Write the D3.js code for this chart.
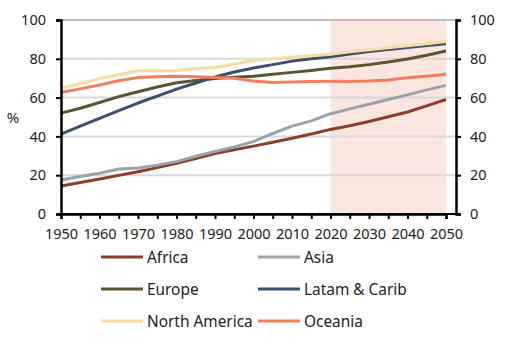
<!DOCTYPE html>
<html>
<head>
<meta charset="utf-8">
<script src="https://cdn.jsdelivr.net/npm/d3@7"></script>
<style>
  body { margin: 0; background: #fff; }
  svg text { font-family: "Noto Sans", sans-serif; fill: #222; }
</style>
</head>
<body>
<svg id="chart" width="505" height="347"></svg>
<script>
'use strict';

// Five-yearly urbanisation share (%), 1950-2050
var years = d3.range(1950, 2051, 5);
var africa   = [14.4, 16.2, 18.0, 19.9, 21.8, 23.9, 26.1, 28.6, 31.2, 33.1, 35.0, 37.0, 39.0, 41.2, 43.6, 45.5, 47.7, 50.1, 52.6, 55.7, 59.0];
var asia     = [17.5, 19.3, 21.0, 23.2, 23.7, 25.2, 27.0, 29.8, 32.2, 34.6, 37.3, 41.5, 45.3, 48.0, 51.7, 54.2, 56.6, 59.0, 61.4, 64.0, 66.3];
var europe   = [52.0, 54.5, 57.5, 60.5, 63.0, 65.5, 67.7, 68.8, 69.8, 70.5, 71.0, 72.0, 73.0, 74.0, 75.1, 75.9, 77.0, 78.4, 79.9, 81.8, 84.0];
var latam    = [41.2, 45.3, 49.3, 53.3, 57.2, 60.8, 64.4, 67.5, 70.6, 73.2, 75.3, 77.0, 78.8, 80.0, 81.0, 82.5, 83.7, 84.8, 85.8, 86.8, 87.8];
var northAm  = [64.7, 67.3, 69.8, 71.8, 73.9, 73.9, 73.9, 75.0, 75.5, 77.3, 79.1, 80.0, 80.8, 81.6, 82.4, 83.6, 84.7, 85.7, 86.7, 87.7, 88.9];
var oceania  = [62.6, 64.5, 66.5, 68.7, 70.3, 70.8, 71.0, 70.8, 70.3, 70.0, 68.6, 67.8, 68.1, 68.3, 68.4, 68.3, 68.5, 69.1, 70.2, 71.0, 72.0];

var seriesNames = ['Africa', 'Asia', 'Europe', 'Latam & Carib', 'North America', 'Oceania'];
var seriesValues = [africa, asia, europe, latam, northAm, oceania];
var seriesColours = ['#8b3f2b', '#9ba3aa', '#5b5631', '#3b4f6f', '#f6dca0', '#ef7f5e'];

var xTicks = d3.range(1950, 2051, 10);
var yTicks = [0, 20, 40, 60, 80, 100];
var forecastStart = 2020, forecastEnd = 2050;

var svg = d3.select('#chart');
var plotLeft = 61, plotRight = 456, plotTop = 20, plotBottom = 214;

var x = d3.scaleLinear().domain([1950, 2050]).range([plotLeft, 446]);
var y = d3.scaleLinear().domain([0, 100]).range([plotBottom, plotTop]);

// Forecast shading
svg.append('rect')
    .attr('x', x(forecastStart))
    .attr('y', y(100))
    .attr('width', x(forecastEnd) - x(forecastStart))
    .attr('height', y(0) - y(100))
    .attr('fill', '#fae5df');

// Gridlines
svg.append('g').selectAll('line')
    .data(yTicks.filter(function(d) { return d > 0; }))
    .enter().append('line')
    .attr('x1', plotLeft).attr('x2', plotRight)
    .attr('y1', function(d) { return y(d); })
    .attr('y2', function(d) { return y(d); })
    .attr('stroke', function(d) { return d === 100 ? '#bdbdbd' : '#d9d9d9'; })
    .attr('stroke-width', 2);

// Series lines
var line = d3.line()
    .x(function(d, i) { return x(years[i]); })
    .y(function(d) { return y(d); });

svg.append('g').selectAll('path')
    .data(seriesValues)
    .enter().append('path')
    .attr('d', line)
    .attr('fill', 'none')
    .attr('stroke', function(d, i) { return seriesColours[i]; })
    .attr('stroke-width', 3)
    .attr('stroke-linejoin', 'round');

// Axes
var leftAxis = svg.append('g')
    .attr('transform', 'translate(' + plotLeft + ',0)')
    .call(d3.axisLeft(y).tickValues(yTicks).tickSize(5).tickPadding(10));

var rightAxis = svg.append('g')
    .attr('transform', 'translate(' + plotRight + ',0)')
    .call(d3.axisRight(y).tickValues(yTicks).tickSize(5).tickPadding(9));

var xAxis = svg.append('g')
    .attr('transform', 'translate(0,' + plotBottom + ')')
    .call(d3.axisBottom(x).tickValues(d3.range(1950, 2051, 5)).tickSize(5).tickFormat(''));

svg.append('g')
    .attr('transform', 'translate(0,' + plotBottom + ')')
    .call(d3.axisBottom(x).tickValues(xTicks).tickSize(0).tickPadding(15).tickFormat(d3.format('d')))
    .call(function(g) { g.select('.domain').remove(); });

svg.append('line')
    .attr('x1', plotLeft - 3).attr('x2', plotRight + 4)
    .attr('y1', plotBottom).attr('y2', plotBottom)
    .attr('stroke', '#000').attr('stroke-width', 2);

[leftAxis, rightAxis, xAxis].forEach(function(g) {
    g.select('.domain').attr('stroke', '#000').attr('stroke-width', 2.5);
    g.selectAll('.tick line').attr('stroke', '#000').attr('stroke-width', 2);
});

svg.selectAll('.tick text')
    .style('font-family', '"Noto Sans", sans-serif')
    .style('font-size', '14.5px')
    .attr('fill', '#222');

svg.append('text')
    .attr('x', 13).attr('y', 123)
    .attr('text-anchor', 'middle')
    .style('font-size', '15px')
    .text('%');

// Legend: two columns, three rows
var legend = svg.append('g');
var legendItems = legend.selectAll('g')
    .data(seriesNames)
    .enter().append('g')
    .attr('transform', function(d, i) {
        var col = i % 2, row = Math.floor(i / 2);
        return 'translate(' + (101 + col * 157) + ',' + (257 + row * 32) + ')';
    });

legendItems.append('line')
    .attr('x1', 0).attr('x2', 42)
    .attr('y1', 0).attr('y2', 0)
    .attr('stroke', function(d, i) { return seriesColours[i]; })
    .attr('stroke-width', 3);

legendItems.append('text')
    .attr('x', 46).attr('y', 5.5)
    .style('font-size', '15.4px')
    .text(function(d) { return d; });
</script>
</body>
</html>
